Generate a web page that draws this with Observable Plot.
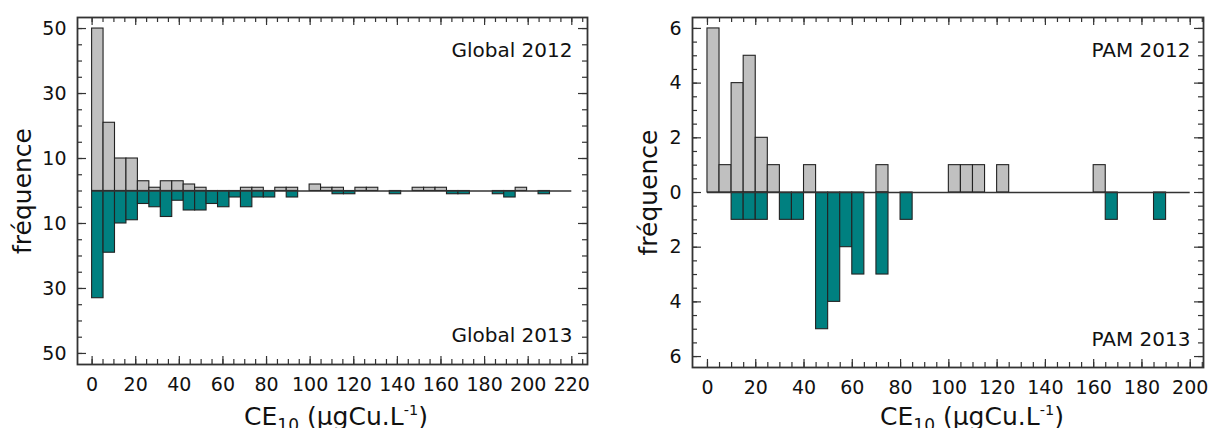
<!DOCTYPE html>
<html>
<head>
<meta charset="utf-8">
<script src="https://cdn.jsdelivr.net/npm/d3@7"></script>
<script src="https://cdn.jsdelivr.net/npm/@observablehq/plot@0.6"></script>
<style>
  body { margin: 0; background: #fff; }
  #fig { position: relative; width: 1211px; height: 428px; overflow: hidden; font-family: "DejaVu Sans", sans-serif; color: #111; }
  .panel { position: absolute; top: 0; }
  .xtitle { position: absolute; font-size: 25px; line-height: 25px; white-space: nowrap; transform: translateX(-50%); }
  .xtitle sub { font-size: 0.68em; vertical-align: -0.35em; line-height: 0; }
  .xtitle sup { font-size: 0.58em; vertical-align: 0.7em; line-height: 0; }
</style>
</head>
<body>
<div id="fig"></div>
<script>
// CE10 histograms, counts per bin; 2012 drawn upward, 2013 drawn downward.

// All sites ("Global"): 40 bins of width 5.25 µgCu/L starting at 0
const globalBinWidth = 5.25;
const global2012 = [50, 21, 10, 10, 3, 1, 3, 3, 2, 1, 0, 0, 0, 1, 1, 0, 1, 1, 0, 2,
                    1, 1, 0, 1, 1, 0, 0, 0, 1, 1, 1, 0, 0, 0, 0, 0, 0, 1, 0, 0];
const global2013 = [33, 19, 10, 9, 4, 5, 8, 3, 6, 6, 4, 5, 2, 5, 2, 2, 0, 2, 0, 0,
                    0, 1, 1, 0, 0, 0, 1, 0, 0, 0, 0, 1, 1, 0, 0, 1, 2, 0, 0, 1];

// PAM sites: 40 bins of width 5 µgCu/L starting at 0
const pamBinWidth = 5;
const pam2012 = [6, 1, 4, 5, 2, 1, 0, 0, 1, 0, 0, 0, 0, 0, 1, 0, 0, 0, 0, 0,
                 1, 1, 1, 0, 1, 0, 0, 0, 0, 0, 0, 0, 1, 0, 0, 0, 0, 0, 0, 0];
const pam2013 = [0, 0, 1, 1, 1, 0, 1, 1, 0, 5, 4, 2, 3, 0, 3, 0, 1, 0, 0, 0,
                 0, 0, 0, 0, 0, 0, 0, 0, 0, 0, 0, 0, 0, 1, 0, 0, 0, 1, 0, 0];

// Axis ticks
const globalXTicks = [0, 20, 40, 60, 80, 100, 120, 140, 160, 180, 200, 220];
const globalXMinor = d3.range(0, 226, 5);
const globalYTicks = [50, 30, 10, -10, -30, -50];
const globalYMinor = d3.range(-50, 51, 5);

const pamXTicks = [0, 20, 40, 60, 80, 100, 120, 140, 160, 180, 200];
const pamXMinor = d3.range(0, 206, 5);
const pamYTicks = [6, 4, 2, 0, -2, -4, -6];
const pamYMinor = d3.range(-6, 6.01, 0.5);

const labels = {
  global: ["Global 2012", "Global 2013"],
  pam: ["PAM 2012", "PAM 2013"]
};

const grey = "#c0c0c0";
const teal = "#008080";
const ink = "#222";

function histogramPanel(cfg) {
  const H = 428;
  const fw = cfg.width - cfg.marginLeft - cfg.marginRight;
  const fh = H - cfg.marginTop - cfg.marginBottom;
  const rows = (counts, sign) =>
    counts.map((v, i) => ({x1: i * cfg.binWidth, x2: (i + 1) * cfg.binWidth, v: sign * v}))
          .filter(d => d.v !== 0);
  const tickStyle = {stroke: "#333", strokeWidth: 1.2};
  return Plot.plot({
    width: cfg.width,
    height: H,
    marginLeft: cfg.marginLeft,
    marginRight: cfg.marginRight,
    marginTop: cfg.marginTop,
    marginBottom: cfg.marginBottom,
    x: {domain: cfg.xDomain},
    y: {domain: cfg.yDomain},
    style: {fontFamily: "'DejaVu Sans', sans-serif", fontSize: "19px", color: "#111", background: "white", overflow: "visible"},
    marks: [
      Plot.rect(rows(cfg.up, 1), {x1: "x1", x2: "x2", y1: 0, y2: "v", fill: grey, stroke: ink, strokeWidth: 1.1}),
      Plot.rect(rows(cfg.down, -1), {x1: "x1", x2: "x2", y1: 0, y2: "v", fill: teal, stroke: ink, strokeWidth: 1.1}),
      Plot.ruleY([0], {x1: 0, x2: cfg.zeroEnd, stroke: "#333", strokeWidth: 1.5}),
      // inward ticks on all four sides
      Plot.tickY(cfg.yMinor, {y: d => d, insetRight: fw - 5, ...tickStyle}),
      Plot.tickY(cfg.yTicks, {y: d => d, insetRight: fw - 9, ...tickStyle}),
      Plot.tickY(cfg.yMinor, {y: d => d, insetLeft: fw - 5, ...tickStyle}),
      Plot.tickY(cfg.yTicks, {y: d => d, insetLeft: fw - 9, ...tickStyle}),
      Plot.tickX(cfg.xMinor, {x: d => d, insetTop: fh - 5, ...tickStyle}),
      Plot.tickX(cfg.xTicks, {x: d => d, insetTop: fh - 8, ...tickStyle}),
      Plot.tickX(cfg.xMinor, {x: d => d, insetBottom: fh - 5, ...tickStyle}),
      Plot.tickX(cfg.xTicks, {x: d => d, insetBottom: fh - 8, ...tickStyle}),
      Plot.axisY(cfg.yTicks, {tickSize: 0, tickPadding: 11, tickFormat: d => Math.abs(d), fontSize: 19, label: null}),
      Plot.axisX(cfg.xTicks, {tickSize: 0, tickPadding: 13, fontSize: 19, label: null}),
      Plot.frame({stroke: "#333", strokeWidth: 1.8}),
      Plot.text([cfg.labels[0]], {frameAnchor: "top-right", textAnchor: "end", dx: cfg.labelDx, dy: 25, fontSize: 20, fill: "#111"}),
      Plot.text([cfg.labels[1]], {frameAnchor: "bottom-right", textAnchor: "end", dx: cfg.labelDx, dy: cfg.bottomDy, fontSize: 20, fill: "#111"}),
      Plot.text(["fréquence"], {frameAnchor: "left", textAnchor: "middle", rotate: -90, dx: cfg.yLabelDx, fontSize: 25, fill: "#111"})
    ]
  });
}

const fig = document.getElementById("fig");

const left = histogramPanel({
  width: 605, marginLeft: 77, marginRight: 18, marginTop: 17, marginBottom: 64,
  xDomain: [-6.7, 227.2], yDomain: [-53.4, 53.4],
  binWidth: globalBinWidth, up: global2012, down: global2013, zeroEnd: 220,
  xTicks: globalXTicks, xMinor: globalXMinor, yTicks: globalYTicks, yMinor: globalYMinor,
  labels: labels.global, labelDx: -15, bottomDy: -23, yLabelDx: -55
});
left.classList.add("panel");
left.style.left = "0px";
fig.appendChild(left);

const right = histogramPanel({
  width: 606, marginLeft: 87, marginRight: 8, marginTop: 17, marginBottom: 61,
  xDomain: [-6.2, 205.5], yDomain: [-6.4, 6.4],
  binWidth: pamBinWidth, up: pam2012, down: pam2013, zeroEnd: 200,
  xTicks: pamXTicks, xMinor: pamXMinor, yTicks: pamYTicks, yMinor: pamYMinor,
  labels: labels.pam, labelDx: -13, bottomDy: -22, yLabelDx: -44
});
right.classList.add("panel");
right.style.left = "605px";
fig.appendChild(right);

// x-axis titles with subscript / superscript
function xTitle(cx) {
  const div = document.createElement("div");
  div.className = "xtitle";
  div.style.left = cx + "px";
  div.style.top = "404px";
  div.innerHTML = "CE<sub>10</sub> (µgCu.L<sup>-1</sup>)";
  fig.appendChild(div);
}
xTitle(336);
xTitle(972);
</script>
</body>
</html>
